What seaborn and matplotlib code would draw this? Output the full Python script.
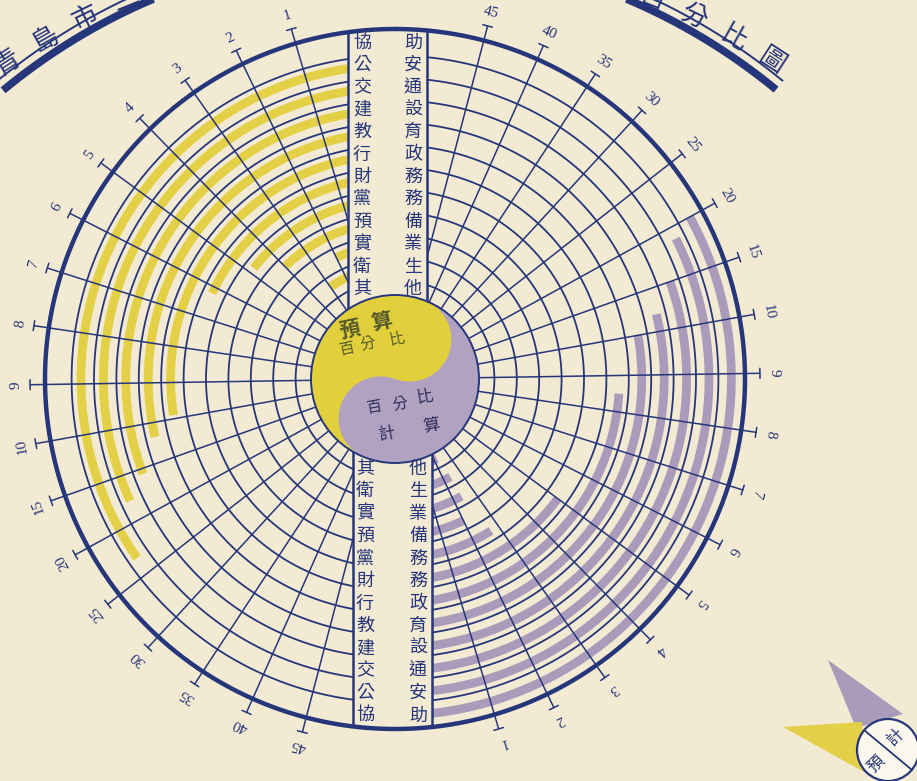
import numpy as np
import pandas as pd
import seaborn as sns
import matplotlib
matplotlib.use('Agg')
from matplotlib import pyplot as plt
from matplotlib.patches import Rectangle, Circle, Polygon
from matplotlib.transforms import Affine2D

# data (outer ring -> inner ring)
categories = ['協助', '公安', '交通', '建設', '教育', '行政', '財務', '黨務', '預備', '實業', '衛生', '其他']
budget_pct = [0.0, 23.2, 17.8, 15.6, 11.8, 9.9, 6.2, 4.8, 4.0, 2.0, 3.0, 2.6]    # 預算
actual_pct = [20.0, 18.8, 15.0, 12.0, 10.0, 8.5, 5.0, 2.7, 2.0, 2.4, 2.4, 2.2]   # 計算
series_names = ['預算', '計算']
tick_values = [1, 2, 3, 4, 5, 6, 7, 8, 9, 10, 15, 20, 25, 30, 35, 40, 45]
title_text = '青島市二十三年度歲出預算計算之百分比圖'
budget_center_text = ['預', '算', '百', '分', '比']
actual_center_text = ['百', '分', '比', '計', '算']
legend_text = ['預', '計']

# configurations
BG = '#f3ead3'
NAVY = '#26367a'
YELLOW = '#e3d046'
PURPLE = '#ab9bbb'
YY_YELLOW = '#e2cf3c'
YY_PURPLE = '#b2a2c2'
CJK = ['Noto Sans CJK TC', 'DejaVu Sans']
NUM = ['Liberation Serif', 'DejaVu Serif']

W, H = 917, 781
CX, CY = 395, 379        # circle centre in image pixels
RM = 400                 # radial limit of the polar axes (pixels)
R_BASE, BAND = 77, 22.4  # ring geometry
R_OUT = 350
R_YY = 84

sns.set_theme(style='white')
plt.rcParams['font.family'] = CJK


def scale_angle(v):
    # 1..10 one step each, then steps of 5 up to 45
    v = np.asarray(v, dtype=float)
    idx = np.where(v <= 10, v, 10 + (v - 10) / 5)
    return 7.2 + 9.3 * idx


def ring_radius(i):
    k = len(categories) - 1 - i
    return R_BASE + BAND * k + 13


fig = plt.figure(figsize=(W / 100, H / 100), dpi=100)
fig.patch.set_facecolor(BG)

# background axes in image pixels: title band and the small key
bg = fig.add_axes([0, 0, 1, 1])
bg.set_xlim(0, W)
bg.set_ylim(H, 0)
bg.axis('off')

TX, TY = 390, 558
a = np.radians(np.linspace(50.5, 129.6, 300))
bg.plot(TX + 607 * np.cos(a), TY - 607 * np.sin(a), color=NAVY, lw=5.5, solid_capstyle='butt')
bg.plot(TX + 618 * np.cos(a), TY - 618 * np.sin(a), color=NAVY, lw=1.4, solid_capstyle='butt')

# title letters sit on a flatter circle than the band
LX, LY, LR = 390, 648, 700
for i, ch in enumerate(title_text):
    ang = 123.2 - 3.68 * i
    bg.text(LX + LR * np.cos(np.radians(ang)), LY - LR * np.sin(np.radians(ang)), ch,
            rotation=ang - 90, rotation_mode='anchor', ha='center', va='center',
            fontsize=19, color=NAVY)

bg.add_patch(Polygon([(828, 660), (856, 728), (903, 714)], closed=True, fc=PURPLE, ec='none'))
bg.add_patch(Polygon([(783, 727), (862, 722), (864, 772)], closed=True, fc=YELLOW, ec='none'))
bg.add_patch(Circle((888, 750), 31, fc='#fbf7ec', ec=NAVY, lw=1.6, zorder=3))
bg.plot([864, 912], [730, 770], color=NAVY, lw=1.3, zorder=4)
bg.text(896, 737, legend_text[1], rotation=45, ha='center', va='center', fontsize=12, color=NAVY, zorder=5)
bg.text(876, 764, legend_text[0], rotation=45, ha='center', va='center', fontsize=12, color=NAVY, zorder=5)

# polar axes for the wheel
ax = fig.add_axes([(CX - RM) / W, (H - CY - RM) / H, 2 * RM / W, 2 * RM / H], projection='polar')
ax.patch.set_alpha(0)
ax.set_zorder(2)

# arcs as a long table, one line per series and ring
rows = []
for name, vals, offset in [(series_names[0], budget_pct, 0.0), (series_names[1], actual_pct, np.pi)]:
    for i, (cat, v) in enumerate(zip(categories, vals)):
        if v <= 0:
            continue
        th = np.linspace(0, np.radians(scale_angle(v)), 150) + offset
        rows.append(pd.DataFrame({'theta': th, 'r': ring_radius(i), 'series': name, 'category': cat}))
arcs = pd.concat(rows, ignore_index=True)
sns.lineplot(data=arcs, x='theta', y='r', hue='series', units='category', estimator=None,
             sort=False, palette={series_names[0]: YELLOW, series_names[1]: PURPLE},
             lw=6.3, legend=False, ax=ax, solid_capstyle='butt', zorder=1)

# rings
full = np.linspace(0, 2 * np.pi, 720)
for k in range(1, 12):
    ax.plot(full, np.full_like(full, R_BASE + BAND * k), color=NAVY, lw=1.3, zorder=2)

# spokes, tick bars and labels on both halves
for v, lab in zip(tick_values, tick_values):
    for offset in (0.0, np.pi):
        th = np.radians(scale_angle(v)) + offset
        ax.plot([th, th], [R_YY, 365], color=NAVY, lw=1.1, zorder=2)
        d = 5 / 365
        ax.plot([th - d, th + d], [365, 365], color=NAVY, lw=1.1, zorder=2)
        ax.text(th, 379, str(lab), rotation=np.degrees(th), rotation_mode='anchor',
                ha='center', va='center', fontsize=11, color=NAVY, family=NUM, zorder=7)

# cartesian helper in pixels relative to the centre (y up)
T = Affine2D().scale(1 / (2 * RM)).translate(0.5, 0.5) + ax.transAxes

# label columns
for x0, y0, y1 in [(-47, 60, 347), (-42, -347, -60)]:
    ax.add_patch(Rectangle((x0, y0), 79, y1 - y0, fc=BG, ec='none', transform=T, zorder=3))
    for xb in (x0, x0 + 79):
        ax.plot([xb, xb], [y0, y1], color=NAVY, lw=1.8, transform=T, zorder=4)

for i, cat in enumerate(categories):
    r = ring_radius(i)
    for x, y, ch in [(-33, r, cat[0]), (18, r, cat[1]), (-30, -r, cat[0]), (23, -r, cat[1])]:
        ax.text(x, y, ch, transform=T, ha='center', va='center', fontsize=13,
                color=NAVY, zorder=7)

# outer circle
ax.plot(full, np.full_like(full, R_OUT), color=NAVY, lw=3.2, zorder=5)

# yin-yang centre
t1 = np.linspace(np.pi / 2, 3 * np.pi / 2, 120)
t2 = np.linspace(-np.pi / 2, -3 * np.pi / 2, 80)
t3 = np.linspace(-np.pi / 2, np.pi / 2, 80)
pts = np.vstack([np.c_[R_YY * np.cos(t1), R_YY * np.sin(t1)],
                 np.c_[R_YY / 2 * np.cos(t2), -R_YY / 2 + R_YY / 2 * np.sin(t2)],
                 np.c_[R_YY / 2 * np.cos(t3), R_YY / 2 + R_YY / 2 * np.sin(t3)]])
rot = np.radians(-20)
pts = pts @ np.array([[np.cos(rot), np.sin(rot)], [-np.sin(rot), np.cos(rot)]])
ax.add_patch(Circle((0, 0), R_YY, fc=YY_PURPLE, ec='none', transform=T, zorder=6))
ax.add_patch(Polygon(pts, closed=True, fc=YY_YELLOW, ec='none', transform=T, zorder=6))
ax.add_patch(Circle((0, 0), R_YY, fc='none', ec=NAVY, lw=1.4, transform=T, zorder=6))

for ch, (x, y), fs, fw in zip(budget_center_text, [(-45, 50), (-13, 58), (-48, 30), (-27, 35), (2, 40)],
                              [15, 15, 11, 11, 11], ['bold', 'bold', 'normal', 'normal', 'normal']):
    ax.text(x, y, ch, transform=T, ha='center', va='center', fontsize=fs, rotation=12,
            fontweight=fw, color='#545a2c', zorder=7)
for ch, (x, y), fs in zip(actual_center_text, [(-20, -28), (5, -25), (30, -18), (-8, -55), (37, -47)],
                          [11, 11, 12, 12, 12]):
    ax.text(x, y, ch, transform=T, ha='center', va='center', fontsize=fs, rotation=10,
            color='#2c2e58', zorder=7)

ax.set_theta_zero_location('N')
ax.set_theta_direction(1)
ax.set_ylim(0, RM)
ax.axis('off')

fig.savefig('out.png', dpi=100, facecolor=BG)
